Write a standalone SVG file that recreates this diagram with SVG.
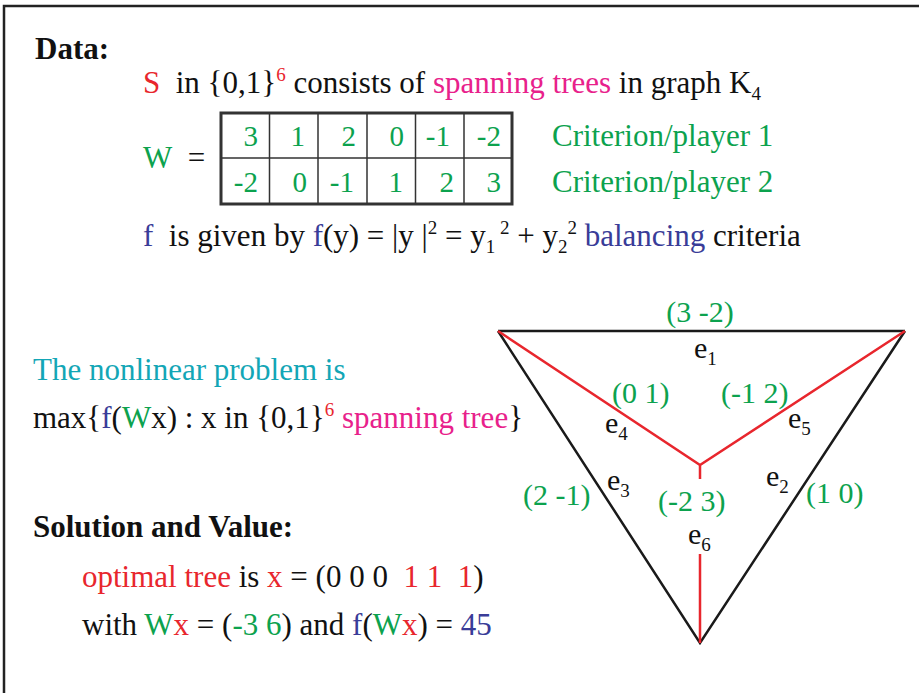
<svg xmlns="http://www.w3.org/2000/svg" width="919" height="693" viewBox="0 0 919 693">
<style>
text{font-family:"Liberation Serif","Times New Roman",serif;font-size:31px;fill:#111}
.b{font-weight:bold}
.r{fill:#e8262d}
.m{fill:#e8218b}
.g{fill:#0ca24e}
.bl{fill:#393c98}
.c{fill:#13a6b6}
.sup{font-size:19px}
.lbl{font-size:30px}
.num{text-anchor:end;fill:#0ca24e;font-size:29px}
.frame{stroke:#222;stroke-width:2.5;fill:none}
.edge{stroke:#1a1a1a;stroke-width:2.5;fill:none}
.tree{stroke:#e8262d;stroke-width:2.5;fill:none}
.grid{stroke:#333;fill:none}
</style>
<rect width="919" height="693" fill="#fff"/>
<path class="frame" d="M4,693 V6 H919"/>

<g id="data">
<text class="b" x="35" y="59" font-size="28">Data:</text>
<text x="143" y="93"><tspan class="r">S</tspan>&#160; in {0,1}<tspan class="r sup" dy="-12">6</tspan><tspan dy="12"> consists of </tspan><tspan class="m">spanning trees</tspan> in graph K<tspan class="sup" dy="7">4</tspan></text>
</g>

<g id="matrix">
<text x="143" y="168"><tspan class="g">W</tspan>&#160; =</text>
<rect class="grid" x="221" y="113" width="291" height="91" stroke-width="3"/>
<path class="grid" stroke-width="1.5" d="M221,158 H512 M269.5,113 V204 M318,113 V204 M367,113 V204 M415.5,113 V204 M464,113 V204"/>
<text class="num" x="258" y="146">3</text>
<text class="num" x="305" y="146">1</text>
<text class="num" x="356" y="146">2</text>
<text class="num" x="404" y="146">0</text>
<text class="num" x="450" y="146">-1</text>
<text class="num" x="501" y="146">-2</text>
<text class="num" x="258" y="192">-2</text>
<text class="num" x="307" y="192">0</text>
<text class="num" x="354" y="192">-1</text>
<text class="num" x="403" y="192">1</text>
<text class="num" x="454" y="192">2</text>
<text class="num" x="501" y="192">3</text>
<text class="g" x="552" y="146">Criterion/player 1</text>
<text class="g" x="552" y="192">Criterion/player 2</text>
</g>

<g id="function">
<text x="143" y="246"><tspan class="bl">f</tspan>&#160; is given by <tspan class="bl">f</tspan>(y) = |y |<tspan class="sup" dy="-12">2</tspan><tspan dy="12"> = y</tspan><tspan class="sup" dy="7">1</tspan><tspan class="sup" dy="-19">&#160;2</tspan><tspan dy="12"> + y</tspan><tspan class="sup" dy="7">2</tspan><tspan class="sup" dy="-19">2</tspan><tspan dy="12"> </tspan><tspan class="bl">balancing</tspan> criteria</text>
</g>

<g id="problem">
<text class="c" x="33" y="380">The nonlinear problem is</text>
<text x="33" y="428">max{<tspan class="bl">f</tspan>(<tspan class="g">W</tspan>x) : x in {0,1}<tspan class="r sup" dy="-12">6</tspan><tspan dy="12"> </tspan><tspan class="m">spanning tree</tspan>}</text>
</g>

<g id="solution">
<text class="b" x="33" y="537" font-size="29.5">Solution and Value:</text>
<text x="82" y="587"><tspan class="r">optimal tree</tspan> is <tspan class="r">x</tspan> = (0 0 0&#160; <tspan class="r">1 1&#160; 1</tspan>)</text>
<text x="82" y="635">with <tspan class="g">W</tspan><tspan class="r">x</tspan> = (<tspan class="g">-3 6</tspan>) and <tspan class="bl">f</tspan>(<tspan class="g">W</tspan><tspan class="r">x</tspan>) = <tspan class="bl">45</tspan></text>
</g>

<g id="connectors">
<path class="edge" d="M498,331 H905"/>
<path class="edge" d="M498,331 L700,643 L905,331"/>
<path class="tree" d="M498,331 L700,465 L905,331 M700,465 V479 M700,554 V643"/>
</g>

<g id="edge-labels">
<text class="g lbl" x="700" y="322" text-anchor="middle">(3 -2)</text>
<text class="lbl" x="694" y="358">e<tspan class="sup" dy="7">1</tspan></text>
<text class="g lbl" x="612" y="403">(0 1)</text>
<text class="g lbl" x="721" y="403">(-1 2)</text>
<text class="lbl" x="605" y="433">e<tspan class="sup" dy="7">4</tspan></text>
<text class="lbl" x="788" y="428">e<tspan class="sup" dy="7">5</tspan></text>
<text class="lbl" x="607" y="490">e<tspan class="sup" dy="7">3</tspan></text>
<text class="lbl" x="766" y="486">e<tspan class="sup" dy="7">2</tspan></text>
<text class="g lbl" x="523" y="505">(2 -1)</text>
<text class="g lbl" x="806" y="503">(1 0)</text>
<text class="g lbl" x="658" y="511">(-2 3)</text>
<text class="lbl" x="688" y="544">e<tspan class="sup" dy="7">6</tspan></text>
</g>
</svg>
